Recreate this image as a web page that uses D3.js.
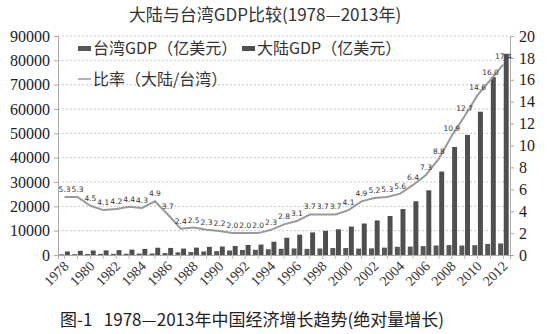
<!DOCTYPE html>
<html><head><meta charset="utf-8">
<script src="https://cdn.jsdelivr.net/npm/d3@7"></script>
<style>body{margin:0;background:#fff}svg{display:block}</style>
</head><body>
<svg id="c" width="550" height="334"></svg>
<script>
const years = d3.range(1978, 2013).map(String);
const tickYears = ["1978","1980","1982","1984","1986","1988","1990","1992","1994","1996","1998","2000","2002","2004","2006","2008","2010","2012"];
const mainland = [1450,1720,1850,1900,1980,2220,2510,2990,2900,2640,3020,3360,3490,3700,4120,4300,5450,7100,8350,9290,9940,10570,11700,12940,14200,16030,18880,22080,26580,34300,44400,49350,58900,73100,82700];
const taiwan = [274,325,411,463,471,505,584,610,784,1100,1208,1461,1586,1850,2060,2150,2370,2536,2694,2511,2686,2857,2854,2641,2731,3025,3371,3450,3641,3898,4073,3886,4034,4569,4753];
const ratio = [5.3,5.3,4.5,4.1,4.2,4.4,4.3,4.9,3.7,2.4,2.5,2.3,2.2,2.0,2.0,2.0,2.3,2.8,3.1,3.7,3.7,3.7,4.1,4.9,5.2,5.3,5.6,6.4,7.3,8.8,10.9,12.7,14.6,16.0,17.4];
const leftTicks = d3.range(0, 90001, 10000);
const rightTicks = d3.range(0, 21, 2);
const seriesNames = ["台湾GDP（亿美元）","大陆GDP（亿美元）","比率（大陆/台湾）"];

const svg = d3.select("#c");
const L = 58, R = 510, T = 36, B = 255;
const serif = "'Liberation Serif','Times New Roman','DejaVu Serif',serif";
const cjk = "'Noto Sans CJK SC','Noto Sans',sans-serif";

const x = d3.scaleBand().domain(years).range([L, R]).paddingInner(0.18).paddingOuter(0.1);
const x1 = d3.scaleBand().domain(["tw","cn"]).range([0, x.bandwidth()]).paddingInner(0.12);
const y = d3.scaleLinear().domain([0, 90000]).range([B, T]);
const yR = d3.scaleLinear().domain([0, 20]).range([B, T]);

// gridlines
svg.append("g").selectAll("line").data(leftTicks.slice(1)).join("line")
  .attr("x1", L).attr("x2", R).attr("y1", d => y(d)).attr("y2", d => y(d))
  .attr("stroke", "#c8c8c8").attr("stroke-dasharray", "2,2").attr("stroke-width", 1);

// bars
const g = svg.append("g");
g.selectAll(".tw").data(years).join("rect")
  .attr("x", d => x(d) + x1("tw")).attr("width", x1.bandwidth())
  .attr("y", (d, i) => y(taiwan[i])).attr("height", (d, i) => B - y(taiwan[i]))
  .attr("fill", "#585858");
g.selectAll(".cn").data(years).join("rect")
  .attr("x", d => x(d) + x1("cn")).attr("width", x1.bandwidth())
  .attr("y", (d, i) => y(mainland[i])).attr("height", (d, i) => B - y(mainland[i]))
  .attr("fill", "#4f4f4f");

// axes
const ax = svg.append("g").attr("transform", `translate(${L},0)`)
  .call(d3.axisLeft(y).tickValues(leftTicks).tickSize(4).tickPadding(4).tickFormat(d3.format("d")));
ax.attr("font-family", serif);
ax.select(".domain").attr("stroke", "#aaa");
ax.selectAll(".tick line").attr("stroke", "#aaa");
ax.selectAll("text").style("font-family", serif).style("font-size", "16px").attr("fill", "#222");

const ar = svg.append("g").attr("transform", `translate(${R},0)`)
  .call(d3.axisRight(yR).tickValues(rightTicks).tickSize(4).tickPadding(5));
ar.attr("font-family", serif);
ar.select(".domain").attr("stroke", "#aaa");
ar.selectAll(".tick line").attr("stroke", "#aaa");
ar.selectAll("text").style("font-family", serif).style("font-size", "16px").attr("fill", "#222");

const axb = svg.append("g").attr("transform", `translate(0,${B})`)
  .call(d3.axisBottom(x).tickValues(years).tickSize(4).tickFormat(d => tickYears.includes(d) ? d : ""));
axb.attr("font-family", serif);
axb.select(".domain").attr("stroke", "#aaa");
axb.selectAll(".tick line").attr("stroke", "#bbb");
axb.selectAll("text").style("font-family", serif).style("font-size", "14px").attr("fill", "#333")
  .attr("text-anchor", "end").attr("y", 0).attr("dy", 0).attr("transform", "translate(5,12) rotate(-45)");

// ratio line
const cx = (d) => x(d) + x.bandwidth() / 2;
svg.append("path").datum(years)
  .attr("fill", "none").attr("stroke", "#9a9a9a").attr("stroke-width", 2)
  .attr("d", d3.line().x(d => cx(d)).y((d, i) => yR(ratio[i])));
svg.append("g").selectAll("text").data(years).join("text")
  .attr("x", d => cx(d)).attr("y", (d, i) => yR(ratio[i]) - 5)
  .attr("text-anchor", "middle").attr("font-family", "'DejaVu Sans',sans-serif").attr("font-size", 7.5)
  .attr("fill", "#333").text((d, i) => ratio[i].toFixed(1));

// title
svg.append("text").attr("x", 265).attr("y", 21).attr("text-anchor", "middle")
  .attr("font-family", cjk).attr("font-size", 17).attr("fill", "#333")
  .text("大陆与台湾GDP比较(1978—2013年)");

// legend
const lg = svg.append("g").attr("font-family", cjk).attr("font-size", 16).attr("fill", "#333");
lg.append("rect").attr("x", 78).attr("y", 46).attr("width", 13).attr("height", 5).attr("fill", "#585858");
lg.append("text").attr("x", 93).attr("y", 54).text(seriesNames[0]);
lg.append("rect").attr("x", 242).attr("y", 46).attr("width", 13).attr("height", 5).attr("fill", "#4f4f4f");
lg.append("text").attr("x", 257).attr("y", 54).text(seriesNames[1]);
lg.append("line").attr("x1", 78).attr("x2", 91).attr("y1", 79).attr("y2", 79).attr("stroke", "#9a9a9a").attr("stroke-width", 1.5);
lg.append("text").attr("x", 93).attr("y", 85).text(seriesNames[2]);

// caption
svg.append("text").attr("x", 60).attr("y", 326)
  .attr("font-family", cjk).attr("font-size", 17).attr("fill", "#222")
  .style("white-space", "pre")
  .text("图-1   1978—2013年中国经济增长趋势(绝对量增长)");
</script>
</body></html>
